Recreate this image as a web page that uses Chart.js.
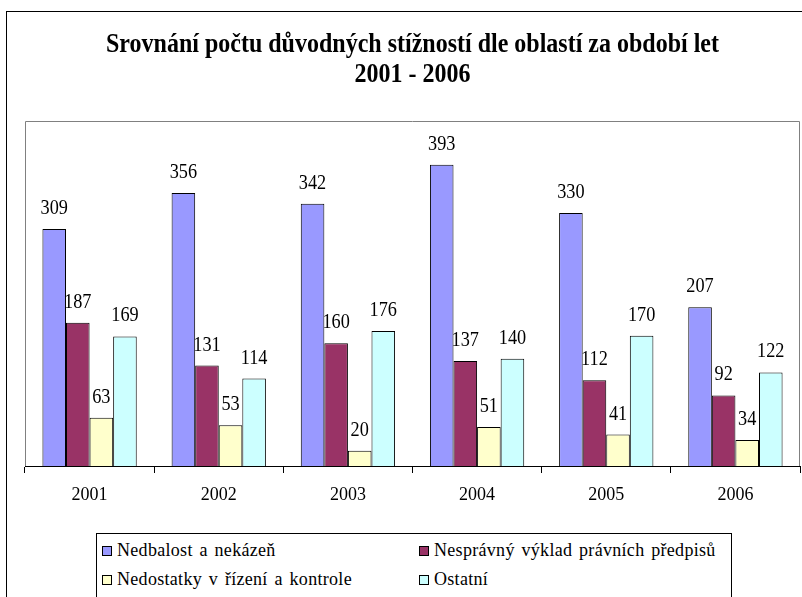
<!DOCTYPE html>
<html>
<head>
<meta charset="utf-8">
<script src="https://cdn.jsdelivr.net/npm/chart.js@4/dist/chart.umd.min.js"></script>
<style>
    html, body { margin: 0; padding: 0; background: #fff; overflow: hidden; }
    #wrap { position: relative; width: 802px; height: 597px; }
    #frame { position: absolute; left: 6px; top: 11px; width: 900px; height: 700px; border-left: 1px solid #000; border-top: 1px solid #000; }
    #title { position: absolute; left: 0; top: 28px; width: 825px; text-align: center; font-family: 'Liberation Serif', serif; font-weight: bold; font-size: 27px; line-height: 30px; color: #000; white-space: nowrap; }
    #chart { position: absolute; left: 0; top: 0; }
    #legend { position: absolute; left: 96px; top: 533px; width: 634px; height: 80px; border: 1px solid #000; background: #fff; font-family: 'Liberation Serif', serif; font-size: 18px; color: #000; }
    .item { position: absolute; white-space: nowrap; line-height: 20px; letter-spacing: 0.3px; word-spacing: 2px; }
    .box { position: absolute; width: 8px; height: 8px; border: 1px solid #000; }
</style>
</head>
<body>
<div id="wrap">
    <div id="frame"></div>
    <canvas id="chart" width="802" height="597"></canvas>
    <div id="title"><span id="t1">Srovnání počtu důvodných stížností dle oblastí za období let</span><br>2001 - 2006</div>
    <div id="legend"></div>
</div>
<script>
const years = ['2001', '2002', '2003', '2004', '2005', '2006'];
const seriesNames = ['Nedbalost a nekázeň', 'Nesprávný výklad právních předpisů', 'Nedostatky v řízení a kontrole', 'Ostatní'];
const nedbalost = [309, 356, 342, 393, 330, 207];
const nespravny = [187, 131, 160, 137, 112, 92];
const nedostatky = [63, 53, 20, 51, 41, 34];
const ostatni = [169, 114, 176, 140, 170, 122];
const colors = ['#9999FF', '#993366', '#FFFFCC', '#CCFFFF'];
const serif = "'Liberation Serif', serif";

const allSeries = [nedbalost, nespravny, nedostatky, ostatni];

// the original uses a narrow, tall face - squeeze the title to its width
const t1 = document.getElementById('t1');
const squeeze = 613 / t1.getBoundingClientRect().width;
document.getElementById('title').style.transform = `scaleX(${squeeze})`;

// grey frame round the plot area
const plotBorder = {
    id: 'plotBorder',
    beforeDraw(chart) {
        const { ctx, chartArea: a } = chart;
        ctx.save();
        ctx.strokeStyle = '#808080';
        ctx.lineWidth = 1;
        ctx.beginPath();
        ctx.moveTo(a.left + 0.5, a.bottom);
        ctx.lineTo(a.left + 0.5, a.top + 0.5);
        ctx.lineTo(a.right - 0.5, a.top + 0.5);
        ctx.lineTo(a.right - 0.5, a.bottom);
        ctx.stroke();
        ctx.restore();
    }
};

// value labels above the bars (narrow like the original)
const valueLabels = {
    id: 'valueLabels',
    afterDatasetsDraw(chart) {
        const ctx = chart.ctx;
        chart.data.datasets.forEach((ds, i) => {
            chart.getDatasetMeta(i).data.forEach((bar, j) => {
                ctx.save();
                ctx.translate(bar.x, bar.y - 15);
                ctx.scale(0.83, 1);
                ctx.font = '22px ' + serif;
                ctx.fillStyle = '#000';
                ctx.textAlign = 'center';
                ctx.textBaseline = 'alphabetic';
                ctx.fillText(String(ds.data[j]), 0, 0);
                ctx.restore();
            });
        });
    }
};

new Chart(document.getElementById('chart').getContext('2d'), {
    type: 'bar',
    data: {
        labels: years,
        datasets: allSeries.map((values, i) => ({
            label: seriesNames[i],
            data: values,
            backgroundColor: colors[i],
            borderColor: '#000',
            borderWidth: 1,
            categoryPercentage: 0.73,
            barPercentage: 1
        }))
    },
    options: {
        responsive: false,
        animation: false,
        layout: { padding: { left: 25, right: 2, top: 121, bottom: 91 } },
        plugins: {
            legend: { display: false },
            title: { display: false },
            tooltip: { enabled: false }
        },
        scales: {
            y: {
                display: false,
                min: 0,
                max: 450
            },
            x: {
                afterFit(scale) { scale.height = 40; },
                border: { display: true, color: '#000', width: 1 },
                grid: { offset: true, drawOnChartArea: false, drawTicks: true, tickLength: 7, color: '#000' },
                ticks: { color: '#000', padding: 11, font: { family: serif, size: 18 } }
            }
        }
    },
    plugins: [plotBorder, valueLabels]
});

// legend box below the chart
const legend = document.getElementById('legend');
const spots = [[5, 6], [322, 6], [5, 35], [322, 35]];
seriesNames.forEach((name, i) => {
    const box = document.createElement('span');
    box.className = 'box';
    box.style.background = colors[i];
    box.style.left = spots[i][0] + 'px';
    box.style.top = (spots[i][1] + 6) + 'px';
    legend.appendChild(box);

    const item = document.createElement('div');
    item.className = 'item';
    item.style.left = (spots[i][0] + 15) + 'px';
    item.style.top = spots[i][1] + 'px';
    item.textContent = name;
    legend.appendChild(item);
});
</script>
</body>
</html>
